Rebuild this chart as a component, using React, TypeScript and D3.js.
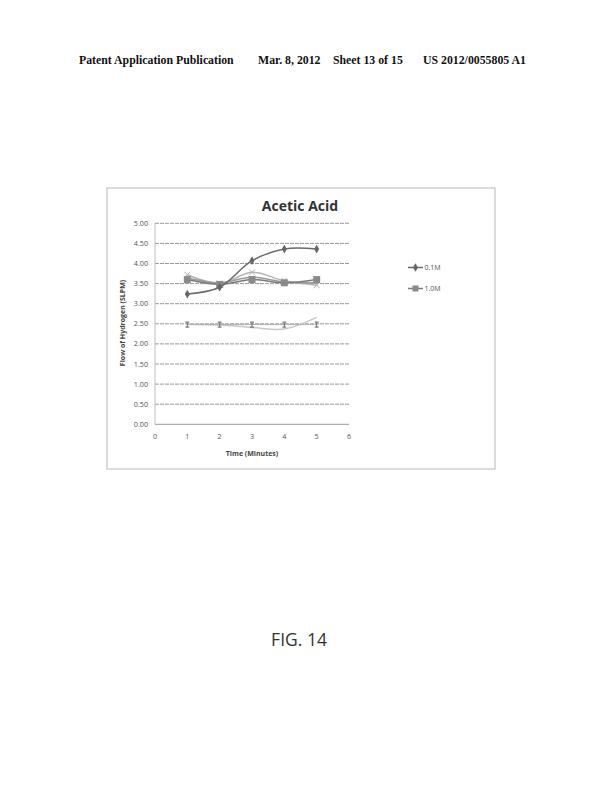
import React from "react";
import * as d3 from "d3";

const times = [1, 2, 3, 4, 5];
const s01M = [3.24, 3.41, 4.07, 4.36, 4.36];
const s10M = [3.6, 3.48, 3.6, 3.52, 3.6];
const sX = [3.72, 3.5, 3.78, 3.57, 3.46];
const sMid = [3.64, 3.52, 3.66, 3.54, 3.52];
const sErr = [2.48, 2.48, 2.48, 2.48, 2.48];
const sLow = [2.49, 2.47, 2.41, 2.37, 2.66];
const yTicks = [0, 0.5, 1, 1.5, 2, 2.5, 3, 3.5, 4, 4.5, 5];
const xTicks = [0, 1, 2, 3, 4, 5, 6];
const legendItems = ["0.1M", "1.0M"];

export default function App() {
  const x = d3.scaleLinear().domain([0, 6]).range([155, 349]);
  const y = d3.scaleLinear().domain([0, 5]).range([424.3, 223.3]);
  const line = (vals: number[]) =>
    d3
      .line<number>()
      .x((_, i) => x(times[i]))
      .y((d) => y(d))
      .curve(d3.curveCatmullRom.alpha(0.5))(vals) as string;
  const sans = "'Open Sans', 'Noto Sans', sans-serif";
  const diamond = d3.symbol(d3.symbolDiamond, 22)() as string;
  return (
    <svg
      width={614}
      height={792}
      style={{ position: "absolute", left: 0, top: 0, background: "#fff" }}
    >
      <g fontFamily="'Liberation Serif', 'Times New Roman', serif" fontWeight="bold" fontSize={11.8} fill="#111">
        <text x={79} y={64}>Patent Application Publication</text>
        <text x={258} y={64}>Mar. 8, 2012</text>
        <text x={333} y={64}>Sheet 13 of 15</text>
        <text x={423} y={64}>US 2012/0055805 A1</text>
      </g>
      <rect x={107} y={188} width={388} height={281} fill="none" stroke="#b8b8b8" strokeWidth={1} />
      <text x={300} y={211} textAnchor="middle" fontFamily={sans} fontWeight="bold" fontSize={14} fill="#333">
        Acetic Acid
      </text>
      {yTicks.map((t) => (
        <g key={t}>
          <line x1={155} x2={349} y1={y(t)} y2={y(t)} stroke="#9a9a9a" strokeWidth={1} strokeDasharray={t === 0 ? "" : "4,1"} />
          <text x={148} y={y(t) + 2.5} textAnchor="end" fontFamily={sans} fontSize={7.2} fill="#555">
            {t.toFixed(2)}
          </text>
        </g>
      ))}
      <line x1={155} x2={155} y1={223} y2={424.3} stroke="#c0c0c0" />
      {xTicks.map((t) => (
        <text key={t} x={x(t)} y={439} textAnchor="middle" fontFamily={sans} fontSize={7.2} fill="#555">
          {t}
        </text>
      ))}
      <text x={252} y={456} textAnchor="middle" fontFamily={sans} fontWeight="bold" fontSize={7} fill="#444">
        Time (Minutes)
      </text>
      <text
        transform={`translate(125,323) rotate(-90)`}
        textAnchor="middle"
        fontFamily={sans}
        fontWeight="bold"
        fontSize={7}
        fill="#444"
      >
        Flow of Hydrogen (SLPM)
      </text>
      {/* bottom series */}
      <path d={line(sLow)} fill="none" stroke="#c8c8c8" strokeWidth={1.5} />
      <path d={line(sErr)} fill="none" stroke="#b0b0b0" strokeWidth={1} />
      {sErr.map((v, i) => (
        <g key={i} stroke="#666" strokeWidth={1}>
          <line x1={x(times[i])} x2={x(times[i])} y1={y(v) - 2.5} y2={y(v) + 2.5} />
          <line x1={x(times[i]) - 2} x2={x(times[i]) + 2} y1={y(v) - 2.5} y2={y(v) - 2.5} />
          <line x1={x(times[i]) - 2} x2={x(times[i]) + 2} y1={y(v) + 2.5} y2={y(v) + 2.5} />
        </g>
      ))}
      {/* upper series */}
      <path d={line(sX)} fill="none" stroke="#b4b4b4" strokeWidth={1.5} />
      {sX.map((v, i) => (
        <g key={i} stroke="#b0b0b0" strokeWidth={1}>
          <line x1={x(times[i]) - 3} x2={x(times[i]) + 3} y1={y(v) - 3} y2={y(v) + 3} />
          <line x1={x(times[i]) - 3} x2={x(times[i]) + 3} y1={y(v) + 3} y2={y(v) - 3} />
        </g>
      ))}
      <path d={line(sMid)} fill="none" stroke="#9a9a9a" strokeWidth={1.5} />
      <path d={line(s10M)} fill="none" stroke="#7a7a7a" strokeWidth={1.5} />
      {s10M.map((v, i) => (
        <rect key={i} x={x(times[i]) - 3.5} y={y(v) - 3.5} width={7} height={7} fill="#8a8a8a" />
      ))}
      <path d={line(s01M)} fill="none" stroke="#6a6a6a" strokeWidth={1.5} />
      {s01M.map((v, i) => (
        <path key={i} d={diamond} transform={`translate(${x(times[i])},${y(v)})`} fill="#666" />
      ))}
      {/* legend */}
      {legendItems.map((name, i) => {
        const ly = 267.5 + i * 21;
        return (
          <g key={name}>
            <line x1={408} x2={423} y1={ly} y2={ly} stroke={i === 0 ? "#6a6a6a" : "#7a7a7a"} strokeWidth={1.5} />
            {i === 0 ? (
              <path d={diamond} transform={`translate(415.5,${ly})`} fill="#666" />
            ) : (
              <rect x={412.5} y={ly - 3} width={6} height={6} fill="#8a8a8a" />
            )}
            <text x={424.5} y={ly + 2.5} fontFamily={sans} fontSize={7} fill="#555">
              {name}
            </text>
          </g>
        );
      })}
      <text x={299} y={646} textAnchor="middle" fontFamily={sans} fontSize={17.5} fill="#333">
        FIG. 14
      </text>
    </svg>
  );
}
